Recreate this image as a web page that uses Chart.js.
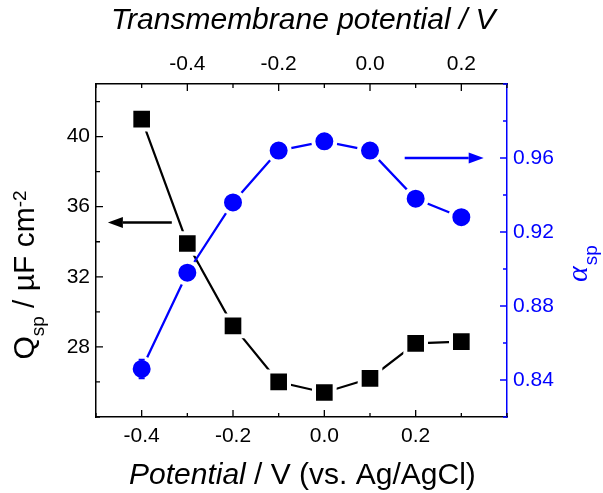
<!DOCTYPE html>
<html>
<head>
<meta charset="utf-8">
<script src="https://cdn.jsdelivr.net/npm/chart.js@4.4.1/dist/chart.umd.min.js"></script>
<style>
  html, body { margin: 0; padding: 0; background: #fff; }
  #wrap { width: 603px; height: 493px; position: relative; }
</style>
</head>
<body>
<div id="wrap"><canvas id="chart"></canvas></div>
<script>
// data
const potential = [-0.4, -0.3, -0.2, -0.1, 0.0, 0.1, 0.2, 0.3];
const qsp = [41.0, 33.9, 29.2, 26.0, 25.4, 26.2, 28.2, 28.3];
const alphaSp = [0.846, 0.898, 0.936, 0.964, 0.969, 0.964, 0.938, 0.928];
const alphaErr = [0.005, 0, 0, 0, 0, 0, 0, 0];

// tick positions (all) and the ones that get a label
const xTicks = [-0.5, -0.4, -0.3, -0.2, -0.1, 0.0, 0.1, 0.2, 0.3, 0.4];
const xLabels = [-0.4, -0.2, 0.0, 0.2];
const topTicks = [-0.6, -0.5, -0.4, -0.3, -0.2, -0.1, 0.0, 0.1, 0.2, 0.3];
const topLabels = [-0.4, -0.2, 0.0, 0.2];
const yTicks = [24, 26, 28, 30, 32, 34, 36, 38, 40, 42];
const yLabels = [28, 32, 36, 40];
const y2Ticks = [0.82, 0.84, 0.86, 0.88, 0.90, 0.92, 0.94, 0.96, 0.98, 1.0];
const y2Labels = [0.84, 0.88, 0.92, 0.96];

const BLUE = '#0000ff';
const FONT = '"Liberation Sans", Arial, sans-serif';

function has(list, v) {
    return list.some(t => Math.abs(t - v) < 1e-6);
}
function setTicks(list) {
    return function(scale) { scale.ticks = list.map(v => ({ value: v })); };
}

function arrow(ctx, x1, y1, x2, y2, color) {
    const ang = Math.atan2(y2 - y1, x2 - x1);
    const hl = 15, hw = 5.5;
    ctx.save();
    ctx.strokeStyle = color;
    ctx.fillStyle = color;
    ctx.lineWidth = 2.5;
    ctx.beginPath();
    ctx.moveTo(x1, y1);
    ctx.lineTo(x2 - hl * Math.cos(ang), y2 - hl * Math.sin(ang));
    ctx.stroke();
    ctx.translate(x2, y2);
    ctx.rotate(ang);
    ctx.beginPath();
    ctx.moveTo(0, 0);
    ctx.lineTo(-hl, -hw);
    ctx.lineTo(-hl, hw);
    ctx.closePath();
    ctx.fill();
    ctx.restore();
}

// inward ticks, arrows, error bar and the axis titles
const decor = {
    id: 'decor',
    afterDatasetsDraw(chart) {
        const ctx = chart.ctx;
        const x = chart.scales.x, y2 = chart.scales.y2;
        ctx.save();
        ctx.strokeStyle = BLUE;
        ctx.lineWidth = 2;
        for (let i = 0; i < potential.length; i++) {
            if (!alphaErr[i]) continue;
            const px = x.getPixelForValue(potential[i]);
            const lo = y2.getPixelForValue(alphaSp[i] - alphaErr[i]);
            const hi = y2.getPixelForValue(alphaSp[i] + alphaErr[i]);
            ctx.beginPath();
            ctx.moveTo(px, lo); ctx.lineTo(px, hi);
            ctx.moveTo(px - 3, lo); ctx.lineTo(px + 3, lo);
            ctx.moveTo(px - 3, hi); ctx.lineTo(px + 3, hi);
            ctx.stroke();
        }
        ctx.restore();
    },
    afterDraw(chart) {
        const ctx = chart.ctx;
        const s = chart.scales;
        const a = chart.chartArea;

        // tick marks pointing into the plot
        function marks(scale, all, major, color, side) {
            ctx.save();
            ctx.strokeStyle = color;
            ctx.lineWidth = 1.3;
            ctx.beginPath();
            all.forEach(v => {
                const p = scale.getPixelForValue(v);
                const len = has(major, v) ? 7 : 4;
                if (side === 'bottom') { ctx.moveTo(p, a.bottom); ctx.lineTo(p, a.bottom - len); }
                if (side === 'top') { ctx.moveTo(p, a.top); ctx.lineTo(p, a.top + len); }
                if (side === 'left') { ctx.moveTo(a.left, p); ctx.lineTo(a.left + len, p); }
                if (side === 'right') { ctx.moveTo(a.right, p); ctx.lineTo(a.right - len, p); }
            });
            ctx.stroke();
            ctx.restore();
        }
        marks(s.x, xTicks, xLabels, '#000', 'bottom');
        marks(s.x2, topTicks, topLabels, '#000', 'top');
        marks(s.y, yTicks, yLabels, '#000', 'left');
        marks(s.y2, y2Ticks, y2Labels, BLUE, 'right');

        // arrows telling which axis each series belongs to
        arrow(ctx, s.x.getPixelForValue(-0.334), s.y.getPixelForValue(35.1),
              s.x.getPixelForValue(-0.474), s.y.getPixelForValue(35.1), '#000');
        arrow(ctx, s.x.getPixelForValue(0.176), s.y2.getPixelForValue(0.96),
              s.x.getPixelForValue(0.349), s.y2.getPixelForValue(0.96), BLUE);

        ctx.save();
        ctx.fillStyle = '#000';
        ctx.textBaseline = 'alphabetic';
        ctx.textAlign = 'left';

        // top title
        ctx.font = 'italic 30px ' + FONT;
        ctx.fillText('Transmembrane potential / V', 111, 29);

        // bottom title
        ctx.font = 'italic 30px ' + FONT;
        ctx.fillText('Potential', 129, 484);
        let w = ctx.measureText('Potential').width;
        ctx.font = '30px ' + FONT;
        ctx.fillText(' / V (vs. Ag/AgCl)', 129 + w, 484);

        // left title: Q_sp / µF cm^-2
        const parts = [
            { t: 'Q', f: '30px ' + FONT, dy: 0 },
            { t: 'sp', f: '19px ' + FONT, dy: 10 },
            { t: ' / \u00b5F cm', f: '30px ' + FONT, dy: 0 },
            { t: '-2', f: '19px ' + FONT, dy: -8 }
        ];
        ctx.save();
        ctx.translate(34, 275);
        ctx.rotate(-Math.PI / 2);
        let total = 0;
        parts.forEach(p => { ctx.font = p.f; p.w = ctx.measureText(p.t).width; total += p.w; });
        let cx = -total / 2;
        parts.forEach(p => { ctx.font = p.f; ctx.fillText(p.t, cx, p.dy); cx += p.w; });
        ctx.restore();

        // right title: alpha_sp
        ctx.save();
        ctx.fillStyle = BLUE;
        ctx.translate(587, 264);
        ctx.rotate(-Math.PI / 2);
        ctx.font = 'italic 30px "Liberation Serif", serif';
        const aw = ctx.measureText('\u03b1').width;
        ctx.font = '19px ' + FONT;
        const sw = ctx.measureText('sp').width;
        ctx.font = 'italic 30px "Liberation Serif", serif';
        ctx.fillText('\u03b1', -(aw + sw) / 2, 0);
        ctx.font = '19px ' + FONT;
        ctx.fillText('sp', -(aw + sw) / 2 + aw + 1, 10);
        ctx.restore();

        ctx.restore();
    }
};

document.addEventListener('DOMContentLoaded', function() {
    const ctx = document.getElementById('chart').getContext('2d');
    const tickFont = { family: FONT, size: 21 };

    new Chart(ctx, {
        type: 'line',
        data: {
            datasets: [
                {
                    label: 'alpha_sp',
                    data: potential.map((p, i) => ({ x: p, y: alphaSp[i] })),
                    xAxisID: 'x',
                    yAxisID: 'y2',
                    borderColor: BLUE,
                    borderWidth: 2.3,
                    pointStyle: 'circle',
                    pointRadius: 11,
                    pointBackgroundColor: BLUE,
                    pointBorderColor: '#fff',
                    pointBorderWidth: 4,
                    tension: 0
                },
                {
                    label: 'Q_sp',
                    data: potential.map((p, i) => ({ x: p, y: qsp[i] })),
                    xAxisID: 'x',
                    yAxisID: 'y',
                    borderColor: '#000',
                    borderWidth: 2.2,
                    pointStyle: 'rect',
                    pointRadius: 14.6,
                    pointBackgroundColor: '#000',
                    pointBorderColor: '#fff',
                    pointBorderWidth: 4,
                    tension: 0
                }
            ]
        },
        options: {
            responsive: true,
            maintainAspectRatio: false,
            animation: false,
            events: [],
            layout: { padding: 0 },
            plugins: {
                legend: { display: false },
                tooltip: { enabled: false }
            },
            scales: {
                x: {
                    type: 'linear', position: 'bottom', min: -0.5, max: 0.4,
                    afterBuildTicks: setTicks(xTicks),
                    afterFit: sc => { sc.height = 76; },
                    grid: { display: false, drawTicks: false },
                    border: { display: true, color: '#000', width: 1.5 },
                    ticks: {
                        padding: 7, color: '#000', font: tickFont, maxRotation: 0, autoSkip: false,
                        callback: v => has(xLabels, v) ? v.toFixed(1) : ''
                    }
                },
                x2: {
                    type: 'linear', position: 'top', min: -0.6, max: 0.3,
                    afterBuildTicks: setTicks(topTicks),
                    afterFit: sc => { sc.height = 84; },
                    grid: { display: false, drawTicks: false },
                    border: { display: true, color: '#000', width: 1.5 },
                    ticks: {
                        padding: 7, color: '#000', font: tickFont, maxRotation: 0, autoSkip: false,
                        callback: v => has(topLabels, v) ? v.toFixed(1) : ''
                    }
                },
                y: {
                    type: 'linear', position: 'left', min: 24, max: 43,
                    afterBuildTicks: setTicks(yTicks),
                    afterFit: sc => { sc.width = 96; },
                    grid: { display: false, drawTicks: false },
                    border: { display: true, color: '#000', width: 1.5 },
                    ticks: {
                        padding: 6, color: '#000', font: tickFont, autoSkip: false,
                        callback: v => has(yLabels, v) ? String(Math.round(v)) : ''
                    }
                },
                y2: {
                    type: 'linear', position: 'right', min: 0.82, max: 1.0,
                    afterBuildTicks: setTicks(y2Ticks),
                    afterFit: sc => { sc.width = 96; },
                    grid: { display: false, drawTicks: false },
                    border: { display: true, color: BLUE, width: 1.5 },
                    ticks: {
                        padding: 6, color: BLUE, font: tickFont, autoSkip: false,
                        callback: v => has(y2Labels, v) ? v.toFixed(2) : ''
                    }
                }
            }
        },
        plugins: [decor]
    });
});
</script>
</body>
</html>
